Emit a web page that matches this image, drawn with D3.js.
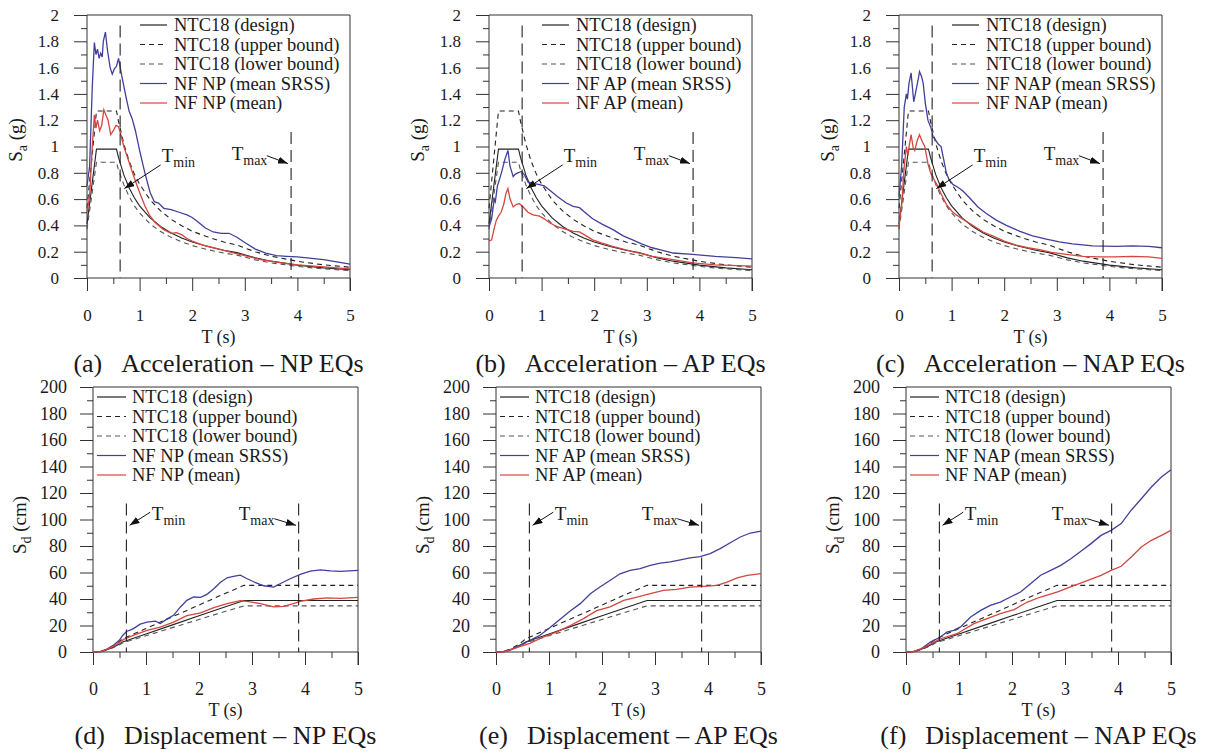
<!DOCTYPE html>
<html>
<head>
<meta charset="utf-8">
<script src="https://cdn.jsdelivr.net/npm/d3@7"></script>
<style>
    body { margin: 0; background: #fff; }
    svg text { font-family: "Liberation Serif", "DejaVu Serif", serif; fill: #1a1a1a; }
</style>
</head>
<body>
<svg id="chart" width="1211" height="753"></svg>
<script>

// ---- data ----

// NTC18 spectra (same in the three panels of a row)
const ntcSaT = [0, 0.18, 0.56, 0.6, 0.7, 0.8, 0.9, 1.0, 1.2, 1.4, 1.6, 1.8, 2.0, 2.3, 2.6, 2.85, 3.2, 3.5, 4.0, 4.5, 5.0];
const ntcSaDesign = [0.41, 0.98, 0.98, 0.915, 0.784, 0.686, 0.61, 0.549, 0.457, 0.392, 0.343, 0.305, 0.274, 0.239, 0.211, 0.193, 0.153, 0.128, 0.098, 0.077, 0.063];
const ntcSaUpper = [0.53, 1.27, 1.27, 1.19, 1.02, 0.89, 0.79, 0.714, 0.594, 0.51, 0.446, 0.397, 0.356, 0.311, 0.274, 0.251, 0.199, 0.166, 0.127, 0.10, 0.082];
const ntcSaLower = [0.37, 0.88, 0.88, 0.82, 0.71, 0.62, 0.55, 0.494, 0.411, 0.353, 0.309, 0.275, 0.247, 0.215, 0.19, 0.174, 0.138, 0.115, 0.088, 0.069, 0.057];

const ntcSdT = [0, 0.1, 0.2, 0.3, 0.4, 0.5, 0.56, 1.0, 1.5, 2.0, 2.5, 2.85, 5.0];
const ntcSdDesign = [0, 0.18, 0.97, 2.19, 3.9, 6.09, 7.64, 13.64, 20.46, 27.28, 34.1, 38.9, 38.9];
const ntcSdUpper = [0, 0.23, 1.26, 2.85, 5.07, 7.92, 9.93, 17.73, 26.6, 35.46, 44.3, 50.3, 50.3];
const ntcSdLower = [0, 0.16, 0.87, 1.97, 3.51, 5.48, 6.88, 12.28, 18.41, 24.55, 30.7, 34.8, 34.8];

// near-fault records, [T (s), value]
const saNpSrss = [[0,0.70],[0.05,0.85],[0.1,1.45],[0.14,1.79],[0.17,1.70],[0.2,1.74],[0.23,1.67],[0.26,1.71],[0.29,1.68],[0.31,1.80],[0.35,1.87],[0.39,1.73],[0.44,1.60],[0.48,1.55],[0.52,1.59],[0.56,1.61],[0.6,1.67],[0.65,1.56],[0.7,1.46],[0.75,1.36],[0.8,1.27],[0.86,1.21],[0.92,1.12],[1.0,0.97],[1.1,0.80],[1.2,0.65],[1.28,0.58],[1.36,0.57],[1.46,0.53],[1.6,0.52],[1.75,0.50],[1.9,0.48],[2.0,0.46],[2.1,0.43],[2.25,0.38],[2.4,0.35],[2.55,0.34],[2.7,0.34],[2.85,0.31],[3.0,0.27],[3.2,0.22],[3.4,0.19],[3.6,0.17],[3.8,0.165],[4.0,0.16],[4.5,0.14],[5.0,0.105]];
const saNpMean = [[0,0.50],[0.05,0.62],[0.1,1.0],[0.14,1.24],[0.17,1.14],[0.2,1.20],[0.24,1.12],[0.28,1.16],[0.32,1.28],[0.36,1.24],[0.4,1.20],[0.45,1.09],[0.5,1.12],[0.55,1.16],[0.6,1.15],[0.65,1.08],[0.7,1.0],[0.8,0.88],[0.9,0.76],[1.0,0.65],[1.1,0.55],[1.2,0.47],[1.3,0.42],[1.45,0.37],[1.6,0.34],[1.7,0.345],[1.8,0.33],[1.9,0.30],[2.0,0.28],[2.2,0.25],[2.4,0.23],[2.6,0.21],[2.8,0.19],[3.0,0.17],[3.3,0.14],[3.6,0.12],[4.0,0.10],[4.5,0.085],[5.0,0.07]];

const saApSrss = [[0,0.39],[0.05,0.45],[0.1,0.60],[0.12,0.58],[0.16,0.70],[0.2,0.75],[0.25,0.82],[0.3,0.90],[0.36,0.97],[0.4,0.85],[0.46,0.77],[0.5,0.79],[0.55,0.80],[0.62,0.81],[0.68,0.78],[0.74,0.73],[0.84,0.72],[0.96,0.71],[1.05,0.70],[1.15,0.67],[1.3,0.62],[1.47,0.57],[1.6,0.545],[1.72,0.535],[1.85,0.49],[1.97,0.45],[2.15,0.41],[2.35,0.37],[2.55,0.32],[2.73,0.29],[2.9,0.26],[3.1,0.23],[3.3,0.21],[3.5,0.19],[3.87,0.18],[4.3,0.165],[4.7,0.155],[5.0,0.145]];
const saApMean = [[0,0.28],[0.05,0.29],[0.1,0.38],[0.14,0.44],[0.18,0.47],[0.23,0.50],[0.28,0.56],[0.32,0.64],[0.36,0.68],[0.4,0.60],[0.46,0.54],[0.52,0.56],[0.58,0.565],[0.65,0.54],[0.74,0.50],[0.84,0.48],[0.96,0.47],[1.05,0.45],[1.15,0.42],[1.3,0.39],[1.47,0.37],[1.6,0.355],[1.72,0.35],[1.85,0.32],[1.97,0.29],[2.15,0.265],[2.35,0.24],[2.55,0.22],[2.73,0.20],[2.9,0.185],[3.1,0.165],[3.5,0.14],[3.87,0.115],[4.3,0.10],[5.0,0.09]];

const saNapSrss = [[0,0.62],[0.05,0.85],[0.1,1.30],[0.14,1.40],[0.16,1.36],[0.19,1.48],[0.23,1.56],[0.28,1.34],[0.32,1.42],[0.36,1.50],[0.39,1.57],[0.43,1.53],[0.46,1.48],[0.5,1.33],[0.55,1.20],[0.61,1.14],[0.65,1.07],[0.68,1.06],[0.74,1.02],[0.8,1.0],[0.85,0.90],[0.9,0.80],[0.95,0.75],[1.03,0.71],[1.12,0.69],[1.22,0.66],[1.34,0.61],[1.5,0.54],[1.66,0.49],[1.85,0.44],[2.04,0.40],[2.3,0.355],[2.54,0.32],[2.8,0.295],[3.05,0.275],[3.3,0.26],[3.68,0.245],[4.13,0.24],[4.44,0.245],[4.75,0.24],[5.0,0.23]];
const saNapMean = [[0,0.39],[0.05,0.55],[0.1,0.85],[0.14,1.0],[0.17,0.93],[0.2,1.02],[0.23,1.09],[0.27,0.99],[0.3,0.97],[0.35,1.05],[0.39,1.09],[0.44,1.04],[0.49,1.0],[0.55,0.87],[0.6,0.80],[0.65,0.76],[0.72,0.71],[0.8,0.64],[0.9,0.56],[1.0,0.51],[1.09,0.48],[1.2,0.45],[1.4,0.40],[1.6,0.35],[1.78,0.32],[2.0,0.28],[2.23,0.25],[2.45,0.23],[2.67,0.215],[2.9,0.195],[3.18,0.18],[3.5,0.165],[3.81,0.16],[4.1,0.16],[4.44,0.165],[4.75,0.16],[5.0,0.15]];

const sdNpSrss = [[0,0],[0.15,0.3],[0.26,2],[0.38,5],[0.5,9],[0.56,12.5],[0.63,15.5],[0.7,16.5],[0.77,17.8],[0.89,21],[1.02,22.5],[1.18,23.3],[1.27,21.5],[1.4,25],[1.52,27.7],[1.65,34],[1.77,39],[1.9,41.5],[2.03,41.3],[2.15,43.5],[2.28,47.8],[2.4,52.5],[2.53,56],[2.65,57],[2.78,58],[2.9,55.5],[3.03,53],[3.22,50],[3.41,49],[3.53,51.5],[3.72,55.3],[3.91,58.6],[4.1,61],[4.29,62],[4.48,61.2],[4.67,60.8],[5.0,61.6]];
const sdNpMean = [[0,0],[0.15,0.3],[0.33,3.3],[0.45,6],[0.58,9.5],[0.77,12.8],[1.02,16.4],[1.27,18.7],[1.52,22.6],[1.77,27.5],[2.03,29.5],[2.28,33.5],[2.53,36.5],[2.78,38.8],[2.97,37.8],[3.16,36.5],[3.41,34],[3.6,34.5],[3.78,36.5],[3.91,38.2],[4.16,40],[4.42,40.8],[4.67,40.4],[5.0,41.2]];

const sdApSrss = [[0,0],[0.15,0.2],[0.26,1.3],[0.45,5],[0.64,8.8],[0.83,12.6],[1.02,18.5],[1.21,24.8],[1.4,31],[1.59,36.5],[1.78,44],[1.96,49],[2.15,54],[2.34,59],[2.53,61.6],[2.72,63],[2.91,65.4],[3.1,67],[3.29,68],[3.48,69.5],[3.66,71],[3.85,72],[4.04,74.2],[4.23,78],[4.42,82.5],[4.61,86.8],[4.8,89.8],[5.0,91.3]];
const sdApMean = [[0,0],[0.15,0.2],[0.33,2.5],[0.64,6.5],[0.89,11.3],[1.15,15.2],[1.4,20],[1.65,25.2],[1.9,31.2],[2.15,34],[2.41,39],[2.66,41.5],[2.91,44],[3.16,46.5],[3.41,47.2],[3.66,49],[3.92,49.6],[4.17,50.3],[4.36,52.8],[4.55,56],[4.74,57.8],[5.0,59.1]];

const sdNapSrss = [[0,0],[0.15,0.3],[0.27,1.8],[0.46,7.5],[0.65,11.3],[0.77,15],[0.9,16.4],[1.03,18.9],[1.22,26.4],[1.41,31.4],[1.59,35.2],[1.78,37.7],[1.97,41.5],[2.16,45.3],[2.35,51.6],[2.54,57.9],[2.73,61.6],[2.92,65.4],[3.11,70.4],[3.3,76],[3.49,81.8],[3.68,88],[3.87,91.8],[4.06,96.9],[4.25,107],[4.44,115.7],[4.63,124.5],[4.82,132],[5.0,137.6]];
const sdNapMean = [[0,0],[0.15,0.3],[0.33,3.3],[0.65,10],[0.96,13.8],[1.28,21.4],[1.53,25.2],[1.78,29],[2.04,32],[2.29,37.7],[2.54,41.5],[2.86,45.3],[3.18,50.3],[3.43,54],[3.68,57.9],[3.87,61.6],[4.06,64.7],[4.25,71.7],[4.44,79.2],[4.63,84.3],[4.82,88],[5.0,91.8]];

// limits of the period range of interest
const tMin = 0.63;
const tMax = 3.88;

// ticks
const periodTicks = [0, 1, 2, 3, 4, 5];
const periodMinor = [0.5, 1.5, 2.5, 3.5, 4.5];
const saTicks = [0, 0.2, 0.4, 0.6, 0.8, 1, 1.2, 1.4, 1.6, 1.8, 2];
const saMinor = [0.1, 0.3, 0.5, 0.7, 0.9, 1.1, 1.3, 1.5, 1.7, 1.9];
const sdTicks = [0, 20, 40, 60, 80, 100, 120, 140, 160, 180, 200];
const sdMinor = [10, 30, 50, 70, 90, 110, 130, 150, 170, 190];

const groups = ['NP', 'AP', 'NAP'];
const letters = [['a', 'b', 'c'], ['d', 'e', 'f']];

// ---- layout ----
const rows = [
    {
        top: 15, height: 263, width: 263, lefts: [87, 489, 899],
        yMax: 2, ticks: saTicks, minor: saMinor, tickFont: 17, yPad: 15, xPad: 18,
        ntcT: ntcSaT, design: ntcSaDesign, upper: ntcSaUpper, lower: ntcSaLower,
        records: [[saNpSrss, saNpMean], [saApSrss, saApMean], [saNapSrss, saNapMean]],
        yName: 'S', ySub: 'a', yUnit: ' (g)', yTitleDx: -72, yTitleY: 125,
        legendLine: [53, 80], legendText: 87,
        vTop: [1.92, 1.11],
        minLabel: [1.42, 0.88], minArrow: [1.40, 0.86, 0.71, 0.68],
        maxLabel: [2.75, 0.90], maxArrow: [3.42, 0.93, 3.82, 0.87],
        titleDy: 65, captionDy: 94, caption: 'Acceleration'
    },
    {
        top: 387, height: 265, width: 265, lefts: [93, 496, 906],
        yMax: 200, ticks: sdTicks, minor: sdMinor, tickFont: 18, yPad: 13, xPad: 17.5,
        ntcT: ntcSdT, design: ntcSdDesign, upper: ntcSdUpper, lower: ntcSdLower,
        records: [[sdNpSrss, sdNpMean], [sdApSrss, sdApMean], [sdNapSrss, sdNapMean]],
        yName: 'S', ySub: 'd', yUnit: ' (cm)', yTitleDx: -74, yTitleY: 138,
        legendLine: [4, 33], legendText: 39,
        vTop: [112, 112],
        minLabel: [1.11, 99.4], minArrow: [1.08, 105.5, 0.69, 95.6],
        maxLabel: [2.75, 99.4], maxArrow: [3.42, 100.6, 3.83, 95.6],
        titleDy: 64, captionDy: 92, caption: 'Displacement'
    }
];

const blue = '#40409c';
const red = '#d4463e';
const serif = '"Liberation Serif", "DejaVu Serif", serif';

let svg = d3.select('#chart');

// arrow head
svg.append('defs').append('marker')
    .attr('id', 'arrow')
    .attr('markerUnits', 'userSpaceOnUse')
    .attr('markerWidth', 10).attr('markerHeight', 7)
    .attr('refX', 10).attr('refY', 3.5)
    .attr('orient', 'auto')
    .append('path').attr('d', 'M0,0L10,3.5L0,7Z').attr('fill', '#111');

rows.forEach((row, r) => {
    groups.forEach((grp, c) => {
        drawPanel(row, r, c, grp);
    });
});

function drawPanel(row, r, c, grp) {

    let left = row.lefts[c];
    let top = row.top;
    let bottom = top + row.height;
    let right = left + row.width;

    let x = d3.scaleLinear().domain([0, 5]).range([left, right]);
    let y = d3.scaleLinear().domain([0, row.yMax]).range([bottom, top]);

    let g = svg.append('g').attr('class', `panel-${letters[r][c]}`).attr('font-family', serif);

    // y axis, major + minor ticks
    g.append('g').attr('transform', `translate(${left},0)`)
        .call(d3.axisLeft(y).tickValues(row.ticks).tickSize(13).tickPadding(row.yPad).tickFormat(d3.format('~g')));
    g.append('g').attr('transform', `translate(${left},0)`)
        .call(d3.axisLeft(y).tickValues(row.minor).tickSize(6).tickFormat(''));

    // x axis hangs below the zero line
    g.append('g').attr('transform', `translate(0,${bottom})`)
        .call(d3.axisBottom(x).tickValues(periodTicks).tickSize(13).tickPadding(row.xPad).tickFormat(d3.format('d')));
    g.append('g').attr('transform', `translate(0,${bottom})`)
        .call(d3.axisBottom(x).tickValues(periodMinor).tickSize(6).tickFormat(''));

    g.selectAll('.domain').remove();
    g.selectAll('g').attr('font-family', serif);
    g.selectAll('.tick line').attr('stroke', '#333').attr('stroke-width', 1);
    g.selectAll('.tick text')
        .style('font-family', serif)
        .attr('font-size', row.tickFont)
        .attr('fill', '#1a1a1a');

    // frame
    g.append('path')
        .attr('d', `M${left},${bottom}V${top}H${right}V${bottom + 13}M${left},${bottom}H${right}`)
        .attr('fill', 'none').attr('stroke', '#333').attr('stroke-width', 1);

    let line = d3.line().x(d => x(d[0])).y(d => y(d[1]));

    // NTC18 spectra
    let ntc = [
        {vals: row.design, dash: null, color: '#222'},
        {vals: row.upper, dash: '5,4', color: '#222'},
        {vals: row.lower, dash: '5,4', color: '#555'}
    ];
    ntc.forEach(s => {
        g.append('path')
            .datum(row.ntcT.map((t, i) => [t, s.vals[i]]))
            .attr('d', line)
            .attr('fill', 'none')
            .attr('stroke', s.color)
            .attr('stroke-width', 1.1)
            .attr('stroke-dasharray', s.dash);
    });

    // near-fault records
    let rec = row.records[c];
    g.append('path').datum(rec[0]).attr('d', line)
        .attr('fill', 'none').attr('stroke', blue).attr('stroke-width', 1.3);
    g.append('path').datum(rec[1]).attr('d', line)
        .attr('fill', 'none').attr('stroke', red).attr('stroke-width', 1.3);

    // Tmin / Tmax markers
    [tMin, tMax].forEach((t, i) => {
        g.append('line')
            .attr('x1', x(t)).attr('x2', x(t))
            .attr('y1', y(row.vTop[i])).attr('y2', y(0))
            .attr('stroke', '#222').attr('stroke-width', 1.1)
            .attr('stroke-dasharray', '12,6');
    });

    let notes = [
        {sub: 'min', at: row.minLabel, arrow: row.minArrow},
        {sub: 'max', at: row.maxLabel, arrow: row.maxArrow}
    ];
    notes.forEach(n => {
        let t = g.append('text')
            .attr('x', x(n.at[0])).attr('y', y(n.at[1]))
            .attr('font-size', 19)
            .text('T');
        t.append('tspan').attr('dy', 5).attr('font-size', 14).text(n.sub);
        g.append('line')
            .attr('x1', x(n.arrow[0])).attr('y1', y(n.arrow[1]))
            .attr('x2', x(n.arrow[2])).attr('y2', y(n.arrow[3]))
            .attr('stroke', '#111').attr('stroke-width', 1)
            .attr('marker-end', 'url(#arrow)');
    });

    // legend
    let legendItems = [
        {label: 'NTC18 (design)', color: '#222', dash: null},
        {label: 'NTC18 (upper bound)', color: '#222', dash: '5,4'},
        {label: 'NTC18 (lower bound)', color: '#555', dash: '5,4'},
        {label: `NF ${grp} (mean SRSS)`, color: blue, dash: null},
        {label: `NF ${grp} (mean)`, color: red, dash: null}
    ];
    legendItems.forEach((item, i) => {
        let ly = top + 10 + i * 19.5;
        g.append('line')
            .attr('x1', left + row.legendLine[0]).attr('x2', left + row.legendLine[1])
            .attr('y1', ly).attr('y2', ly)
            .attr('stroke', item.color).attr('stroke-width', 1.2)
            .attr('stroke-dasharray', item.dash);
        g.append('text')
            .attr('x', left + row.legendText).attr('y', ly)
            .attr('dy', '0.35em')
            .attr('font-size', 18.5)
            .text(item.label);
    });

    // axis titles
    let yt = g.append('text')
        .attr('transform', `translate(${left + row.yTitleDx},${top + row.yTitleY}) rotate(-90)`)
        .attr('text-anchor', 'middle')
        .attr('dy', '0.35em')
        .attr('font-size', 19)
        .text(row.yName);
    yt.append('tspan').attr('dy', 5).attr('font-size', 14).text(row.ySub);
    yt.append('tspan').attr('dy', -5).text(row.yUnit);

    g.append('text')
        .attr('x', (left + right) / 2).attr('y', bottom + row.titleDy)
        .attr('text-anchor', 'middle')
        .attr('font-size', 18)
        .text('T (s)');

    // caption under the panel
    let cap = g.append('text')
        .attr('x', (left + right) / 2).attr('y', bottom + row.captionDy)
        .attr('text-anchor', 'middle')
        .attr('font-size', 26)
        .text(`(${letters[r][c]})`);
    cap.append('tspan').attr('dx', 19).text(`${row.caption} \u2013 ${grp} EQs`);
}
</script>
</body>
</html>
